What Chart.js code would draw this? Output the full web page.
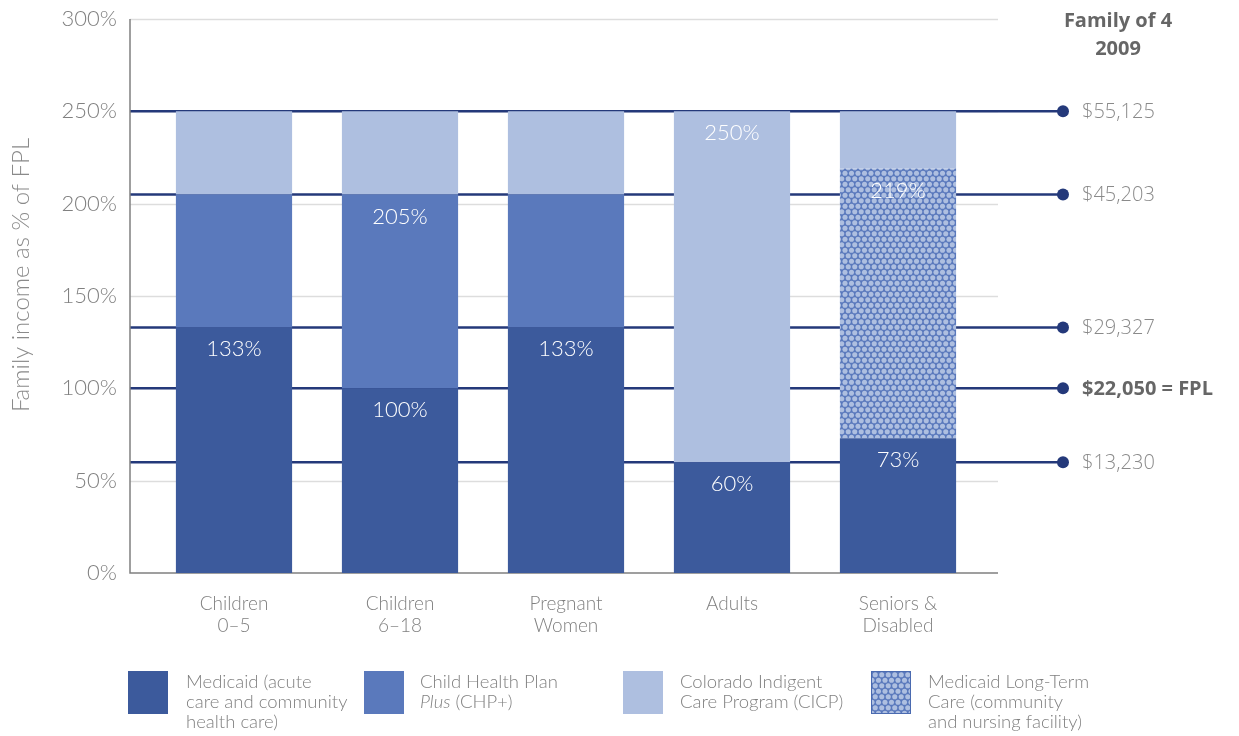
<!DOCTYPE html>
<html>
<head>
<meta charset="utf-8">
<script src="https://cdn.jsdelivr.net/npm/chart.js@4.4.1/dist/chart.umd.min.js"></script>
<style>
  html, body { margin: 0; padding: 0; background: #fff; }
  #wrap { position: relative; width: 1239px; height: 736px; }
  #chart { position: absolute; left: 0; top: 0; }
  .leg { position: absolute; top: 671px; font-family: "Lato", "Open Sans", sans-serif; font-weight: 300; font-size: 18.5px; line-height: 20px; color: #808080; }
  .leg .box { position: absolute; left: 0; top: 0; width: 40px; height: 43px; }
  .leg .txt { position: absolute; top: 0px; white-space: nowrap; }
</style>
</head>
<body>
<div id="wrap">
  <canvas id="chart" width="1239" height="736"></canvas>
  <div class="leg" style="left:128px"><div class="box" style="background:#3c5a9c"></div><div class="txt" style="left:58px">Medicaid (acute<br>care and community<br>health care)</div></div>
  <div class="leg" style="left:364px"><div class="box" style="background:#5a79bc"></div><div class="txt" style="left:56px">Child Health Plan<br><i>Plus</i> (CHP+)</div></div>
  <div class="leg" style="left:623px"><div class="box" style="background:#aebfe0"></div><div class="txt" style="left:57px">Colorado Indigent<br>Care Program (CICP)</div></div>
  <div class="leg" style="left:871px"><div class="box" id="ltcBox" style="border:1px solid #4a6ab0;box-sizing:border-box"></div><div class="txt" style="left:57px">Medicaid Long-Term<br>Care (community<br>and nursing facility)</div></div>
</div>
<script>
const categories = [["Children", "0–5"], ["Children", "6–18"], ["Pregnant", "Women"], ["Adults"], ["Seniors &", "Disabled"]];

// upper limit (% of FPL) of each program per group, null = not covered
const medicaidTop = [133, 100, 133, 60, 73];
const chpTop = [205, 205, 205, null, null];
const ltcTop = [null, null, null, null, 219];
const cicpTop = [250, 250, 250, 250, 250];

// which segments carry a value label
const medicaidLabels = ["133%", "100%", "133%", "60%", "73%"];
const chpLabels = [null, "205%", null, null, null];
const ltcLabels = [null, null, null, null, "219%"];
const cicpLabels = [null, null, null, "250%", null];

// Family of 4, 2009 income thresholds
const fplPercent = [250, 205, 133, 100, 60];
const fplIncome = ["$55,125", "$45,203", "$29,327", "$22,050 = FPL", "$13,230"];

const yTicks = [0, 50, 100, 150, 200, 250, 300];

const DARK = "#3c5a9c", MID = "#5a79bc", LIGHT = "#aebfe0", NAVY = "#24397a";

function dotPattern() {
    const c = document.createElement("canvas");
    c.width = 13; c.height = 11;
    const g = c.getContext("2d");
    g.fillStyle = MID;
    g.fillRect(0, 0, 13, 11);
    g.fillStyle = LIGHT;
    [[3.25, 2.75], [9.75, 2.75], [0, 8.25], [6.5, 8.25], [13, 8.25]].forEach(([x, y]) => {
        g.beginPath(); g.arc(x, y, 2.55, 0, Math.PI * 2); g.fill();
    });
    return c;
}
const tile = dotPattern();
const ltcFill = document.getElementById("chart").getContext("2d").createPattern(tile, "repeat");
document.getElementById("ltcBox").style.background = "url(" + tile.toDataURL() + ")";

const medicaidData = medicaidTop.map(v => [0, v]);
const chpData = chpTop.map((v, i) => v == null ? null : [medicaidTop[i], v]);
const ltcData = ltcTop.map((v, i) => v == null ? null : [medicaidTop[i], v]);
const cicpData = cicpTop.map((v, i) => [Math.max(medicaidTop[i], chpTop[i] || 0, ltcTop[i] || 0), v]);

const refLines = {
    id: "refLines",
    beforeDatasetsDraw(chart) {
        const { ctx, scales: { y } } = chart;
        ctx.save();
        // light grid
        ctx.strokeStyle = "#dddddd";
        ctx.lineWidth = 1.5;
        yTicks.forEach(t => {
            if (t === 0) return;
            const py = Math.round(y.getPixelForValue(t)) + 0.5;
            ctx.beginPath(); ctx.moveTo(130, py); ctx.lineTo(998, py); ctx.stroke();
        });
        // navy income lines
        ctx.strokeStyle = NAVY;
        ctx.lineWidth = 2.5;
        fplPercent.forEach((p, i) => {
            const py = y.getPixelForValue(p);
            ctx.beginPath(); ctx.moveTo(130, py); ctx.lineTo(1063, py); ctx.stroke();
            ctx.fillStyle = NAVY;
            ctx.beginPath(); ctx.arc(1063, py, 6, 0, Math.PI * 2); ctx.fill();
            const bold = fplIncome[i].includes("FPL");
            ctx.fillStyle = bold ? "#666666" : "#8a8a8a";
            ctx.font = (bold ? "bold " : "300 ") + "20px 'Open Sans', sans-serif";
            ctx.textAlign = "left";
            ctx.textBaseline = "middle";
            ctx.fillText(fplIncome[i], 1082, py + 1);
        });
        // axes
        ctx.strokeStyle = "#808080";
        ctx.lineWidth = 1.5;
        const y0 = y.getPixelForValue(0), yTop = y.getPixelForValue(300);
        ctx.beginPath(); ctx.moveTo(130, yTop); ctx.lineTo(130, y0); ctx.lineTo(998, y0); ctx.stroke();
        // header + axis title
        ctx.fillStyle = "#666666";
        ctx.font = "bold 20px 'Open Sans', sans-serif";
        ctx.textAlign = "center";
        ctx.textBaseline = "middle";
        ctx.fillText("Family of 4", 1118, 21);
        ctx.fillText("2009", 1118, 49);
        ctx.translate(21, 275);
        ctx.rotate(-Math.PI / 2);
        ctx.fillStyle = "#8a8a8a";
        ctx.font = "300 24px 'Lato', sans-serif";
        ctx.fillText("Family income as % of FPL", 0, 0);
        ctx.restore();
    },
    afterDatasetsDraw(chart) {
        const { ctx, scales: { y } } = chart;
        const labelSets = [medicaidLabels, chpLabels, ltcLabels, cicpLabels];
        ctx.save();
        ctx.fillStyle = "#ffffff";
        ctx.font = "300 22px 'Lato', sans-serif";
        ctx.textAlign = "center";
        ctx.textBaseline = "middle";
        chart.data.datasets.forEach((ds, di) => {
            const meta = chart.getDatasetMeta(di);
            ds.data.forEach((d, i) => {
                const txt = labelSets[di][i];
                if (!d || !txt) return;
                ctx.fillText(txt, meta.data[i].x, y.getPixelForValue(d[1]) + 22);
            });
        });
        ctx.restore();
    }
};

new Chart(document.getElementById("chart"), {
    type: "bar",
    data: {
        labels: categories,
        datasets: [
            { label: "Medicaid", data: medicaidData, backgroundColor: DARK },
            { label: "CHP+", data: chpData, backgroundColor: MID },
            { label: "Long-Term Care", data: ltcData, backgroundColor: ltcFill },
            { label: "CICP", data: cicpData, backgroundColor: LIGHT }
        ]
    },
    options: {
        responsive: false,
        animation: false,
        borderSkipped: false,
        barPercentage: 0.7,
        categoryPercentage: 1,
        layout: { padding: { left: 0, right: 258, top: 19, bottom: 103 } },
        plugins: { legend: { display: false }, tooltip: { enabled: false } },
        scales: {
            x: {
                stacked: true,
                grid: { display: false },
                border: { display: false },
                afterFit: s => { s.height = 60; s.paddingLeft = 0; s.paddingRight = 0; },
                ticks: { padding: 12, maxRotation: 0, color: "#808080", font: { family: "Lato", weight: 300, size: 19, lineHeight: 1.15 } }
            },
            y: {
                stacked: false,
                min: 0,
                max: 300,
                afterFit: s => { s.width = 151; s.paddingTop = 0; s.paddingBottom = 0; },
                afterBuildTicks: s => { s.ticks = yTicks.map(v => ({ value: v })); },
                grid: { display: false, drawTicks: false },
                border: { display: false },
                ticks: { padding: 34, color: "#808080", font: { family: "Lato", weight: 300, size: 22 }, callback: v => v + "%" }
            }
        }
    },
    plugins: [refLines]
});
</script>
</body>
</html>
